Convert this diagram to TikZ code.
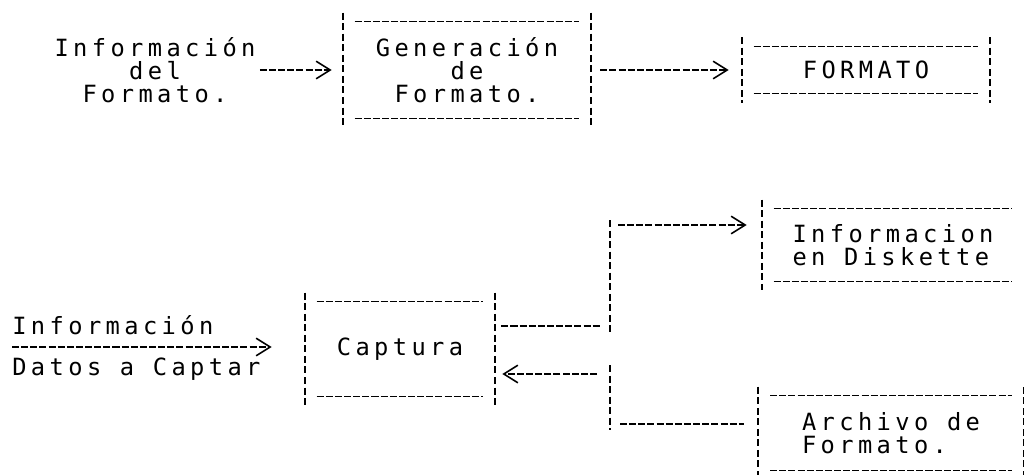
\documentclass[tikz,border=0pt]{standalone}
\usepackage{fontspec}
\newfontfamily\matriz[LetterSpace=18.5]{DejaVu Sans Mono}
\usetikzlibrary{arrows.meta,positioning}
\tikzset{
    txt/.style={font=\matriz\fontsize{13.5}{13.1}\selectfont,inner sep=0pt,align=center},
    caja/.style={txt},
    hlin/.style={line width=0.6pt,dash pattern=on 4pt off 1.2pt},
    vlin/.style={line width=1.1pt,dash pattern=on 4pt off 2pt},
    flecha/.style={hlin,-{Straight Barb[length=8pt,width=10pt,line width=0.9pt]}},
}
\begin{document}
\begin{tikzpicture}[x=0.02cm,y=-0.02cm]
        \useasboundingbox (0,0) rectangle (1024,474);
        \node[txt] (infofmt) at (155,70) {Información\\del\\Formato.};
        \node[caja,minimum width=4.96cm,minimum height=2.28cm] (gen) at (467,70) {Generación\\de\\Formato.};
        \node[caja,minimum width=4.96cm,minimum height=1.3cm] (fmt) at (866,70) {FORMATO};
        \draw[flecha,shorten <=0.08cm,shorten >=0.22cm] (infofmt.east) -- (gen.west);
        \draw[flecha,shorten <=0.18cm,shorten >=0.26cm] (gen.east) -- (fmt.west);
        \node[txt,anchor=base west] (infdat) at (12,334) {Información};
        \node[txt,anchor=base west] (datos) at (12,375) {Datos a Captar};
        \coordinate (ini) at (12,347);
        \node[caja,minimum width=3.8cm,minimum height=2.24cm] (cap) at (400,349) {Captura};
        \node[caja,minimum width=5.24cm,minimum height=1.8cm,align=left] (disk) at (893,245) {Informacion\\en Diskette};
        \node[caja,minimum width=5.3cm,minimum height=1.84cm,align=left] (arch) at (891,433) {Archivo de\\Formato.};
        \foreach \c in {gen,fmt,cap,disk,arch} {
            \draw[vlin] (\c.north west) -- (\c.south west);
            \draw[hlin] ([xshift=0.24cm,yshift=-0.18cm]\c.north west) -- ([xshift=-0.24cm,yshift=-0.18cm]\c.north east);
            \draw[hlin] ([xshift=0.24cm,yshift=0.18cm]\c.south west) -- ([xshift=-0.24cm,yshift=0.18cm]\c.south east);
        }
        \foreach \c in {gen,fmt,cap,arch}
            \draw[vlin] (\c.north east) -- (\c.south east);
        \draw[flecha,shorten >=0.66cm] (ini) -- (ini -| cap.west);
        \coordinate (sal) at ([yshift=0.46cm]cap.east);
        \coordinate (ent) at ([yshift=-0.5cm]cap.east);
        \coordinate (tr1) at (610,225);
        \coordinate (tr2) at (610,424);
        \draw[hlin,shorten <=0.12cm,shorten >=0.2cm] (sal) -- (sal -| tr1);
        \draw[vlin] ([yshift=0.1cm]tr1) -- ([yshift=-0.18cm]sal -| tr1);
        \draw[flecha,shorten <=0.16cm,shorten >=0.3cm] (tr1) -- (tr1 -| disk.west);
        \draw[vlin] ([yshift=0.18cm]ent -| tr2) -- ([yshift=-0.12cm]tr2);
        \draw[hlin,shorten <=0.2cm,shorten >=0.28cm] (tr2) -- (tr2 -| arch.west);
        \draw[flecha,shorten <=0.26cm,shorten >=0.14cm] (ent -| tr2) -- (ent);
\end{tikzpicture}
\end{document}
